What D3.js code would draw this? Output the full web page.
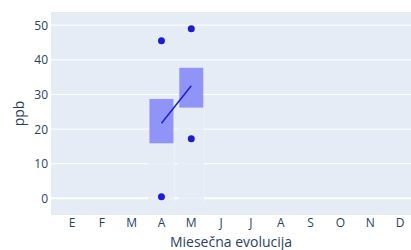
<!DOCTYPE html>
<html>
<head>
<meta charset="utf-8">
<script src="https://cdn.jsdelivr.net/npm/d3@7"></script>
<style>
  html, body { margin: 0; padding: 0; background: #fff; }
  svg { display: block; font-family: "Open Sans", "DejaVu Sans", sans-serif; }
</style>
</head>
<body>
<svg width="411" height="250"></svg>
<script>
// mjeseci (x os) i vrijednosti po mjesecu
const months = ["E", "F", "M", "A", "M", "J", "J", "A", "S", "O", "N", "D"];
const boxMonth = [3, 4];            // indeksi mjeseci s podacima (A, M)
const boxQ1    = [15.9, 26.2];
const boxQ3    = [28.7, 37.7];
const boxMean  = [21.7, 32.5];
const boxLow   = [-1.5, -1.5];      // donji (svijetli) dio ispod kutije
const pointMonth = [3, 3, 4, 4];
const pointVal   = [45.5, 0.5, 49.0, 17.2];
const yTicks = [0, 10, 20, 30, 40, 50];

const svg = d3.select("svg");
const plot = { left: 51, top: 12, right: 411, bottom: 215 };

const bg = "#E5ECF6";
const fontColor = "#2a3f5f";
const boxFill = "#9094f8";
const dark = "#1a1fd4";

const x = d3.scaleLinear().domain([0, 11]).range([72, 400]);
const bw = 24;
const y = d3.scaleLinear().domain([-4.8, 53.8]).range([plot.bottom, plot.top]);

// pozadina
svg.append("rect")
  .attr("x", plot.left).attr("y", plot.top)
  .attr("width", plot.right - plot.left).attr("height", plot.bottom - plot.top)
  .attr("fill", bg);

// mreža
svg.append("g")
  .selectAll("line")
  .data(yTicks)
  .enter()
  .append("line")
  .attr("x1", plot.left).attr("x2", plot.right)
  .attr("y1", d => y(d)).attr("y2", d => y(d))
  .attr("stroke", "#fff")
  .attr("stroke-width", d => d === 0 ? 2 : 1);

// y oznake
svg.append("g")
  .selectAll("text")
  .data(yTicks)
  .enter()
  .append("text")
  .attr("x", 48)
  .attr("y", d => y(d) + 4.5)
  .attr("text-anchor", "end")
  .attr("fill", fontColor)
  .style("font-size", "12px")
  .text(d => d);

// x oznake
svg.append("g")
  .selectAll("text")
  .data(months)
  .enter()
  .append("text")
  .attr("x", (d, i) => x(i))
  .attr("y", 227)
  .attr("text-anchor", "middle")
  .attr("fill", fontColor)
  .style("font-size", "12px")
  .text(d => d);

const boxes = boxMonth.map((m, i) => ({
  m, q1: boxQ1[i], q3: boxQ3[i], mean: boxMean[i], low: boxLow[i]
}));

// svijetli dio ispod kutija (prekriva mrežu)
svg.append("g")
  .selectAll("rect")
  .data(boxes)
  .enter()
  .append("rect")
  .attr("x", d => x(d.m) - bw / 2 - 1)
  .attr("y", d => y(d.q1))
  .attr("width", bw + 2)
  .attr("height", d => y(d.low) - y(d.q1))
  .attr("fill", bg)
  .attr("fill-opacity", 0.85);

svg.append("g")
  .selectAll("line")
  .data(boxes)
  .enter()
  .append("line")
  .attr("x1", d => x(d.m) + bw / 2 + 1).attr("x2", d => x(d.m) + bw / 2 + 1)
  .attr("y1", d => y(d.q1)).attr("y2", d => y(d.low))
  .attr("stroke", "#fff")
  .attr("stroke-opacity", 0.3);

// kutije
svg.append("g")
  .selectAll("rect")
  .data(boxes)
  .enter()
  .append("rect")
  .attr("x", d => x(d.m) - bw / 2)
  .attr("y", d => y(d.q3))
  .attr("width", bw)
  .attr("height", d => y(d.q1) - y(d.q3))
  .attr("fill", boxFill);

// linija srednjih vrijednosti
svg.append("path")
  .datum(boxes)
  .attr("fill", "none")
  .attr("stroke", dark)
  .attr("stroke-width", 1.5)
  .attr("d", d3.line().x(d => x(d.m)).y(d => y(d.mean)));

// točke
svg.append("g")
  .selectAll("circle")
  .data(pointVal.map((v, i) => ({ m: pointMonth[i], v })))
  .enter()
  .append("circle")
  .attr("cx", d => x(d.m))
  .attr("cy", d => y(d.v))
  .attr("r", 3.5)
  .attr("fill", dark);

// naslovi osi
svg.append("text")
  .attr("x", (plot.left + plot.right) / 2)
  .attr("y", 247)
  .attr("text-anchor", "middle")
  .attr("fill", fontColor)
  .style("font-size", "14px")
  .text("Miesečna evolucija");

svg.append("text")
  .attr("transform", `translate(24,${(plot.top + plot.bottom) / 2}) rotate(-90)`)
  .attr("text-anchor", "middle")
  .attr("fill", fontColor)
  .style("font-size", "14px")
  .text("ppb");
</script>
</body>
</html>
